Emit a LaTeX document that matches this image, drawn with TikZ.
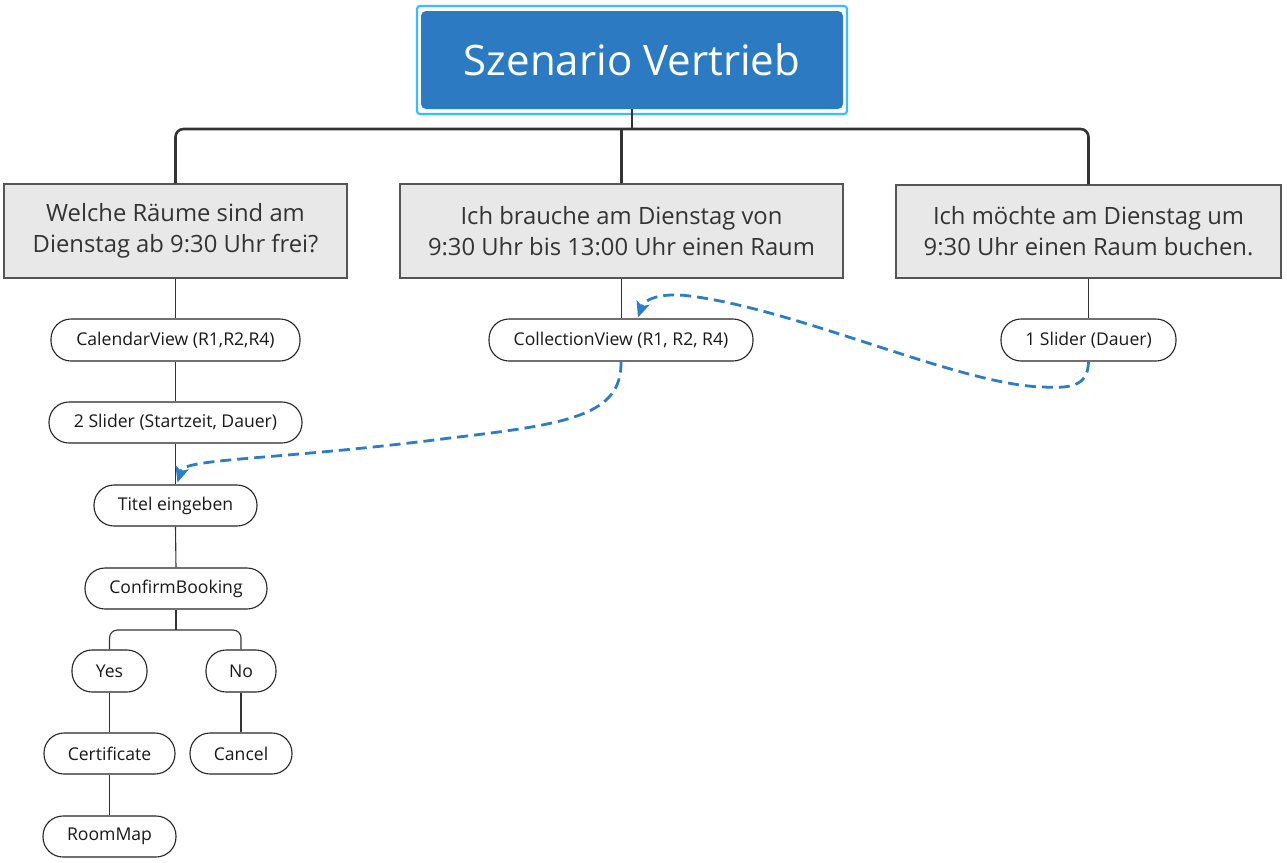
\documentclass[tikz,border=0pt]{standalone}
\usepackage{fontspec}
\setmainfont{Open Sans}
\usetikzlibrary{arrows.meta}
\definecolor{topblue}{RGB}{44,123,194}
\definecolor{hlblue}{RGB}{56,190,250}
\definecolor{boxgray}{RGB}{232,232,232}
\definecolor{boxline}{RGB}{85,85,85}
\definecolor{txt}{RGB}{51,51,51}
\definecolor{conn}{RGB}{51,51,51}
\definecolor{dashblue}{RGB}{46,124,196}
\tikzset{
  topbox/.style={fill=topblue, rounded corners=5pt, text=white, minimum width=422pt, minimum height=98pt, font=\fontsize{42}{48}\selectfont, inner sep=0pt},
  hlbox/.style={draw=hlblue, line width=2.2pt, rounded corners=3pt, minimum width=430pt, minimum height=108pt, inner sep=0pt},
  qbox/.style={draw=boxline, line width=1.3pt, fill=boxgray, text=txt, align=center, minimum height=94pt, inner sep=0pt, font=\fontsize{23.8}{31}\selectfont},
  pill/.style={draw=black!85, line width=1.1pt, fill=white, text=black!90, rounded corners=20pt, minimum height=41pt, inner sep=0pt, font=\fontsize{17.6}{20}\selectfont},
  mainline/.style={draw=conn, line width=2.6pt},
  thinline/.style={draw=conn, line width=1.1pt},
  dasharrow/.style={draw=dashblue, line width=2.8pt, dash pattern=on 11pt off 6pt, -{Stealth[length=16pt,width=14pt,inset=4pt,line width=0pt]}},
}
\begin{document}
\begin{tikzpicture}[x=1pt,y=-1pt]
\useasboundingbox (0,0) rectangle (1287,862);
\fill[white] (0,0) rectangle (1287,862);

% top
\node[hlbox] (topsel) at (632,60) {};
\node[topbox] (top) at (632,60) {Szenario Vertrieb};

% questions
\node[qbox, minimum width=343pt] (q1) at (175.5,231) {Welche Räume sind am\\Dienstag ab 9:30 Uhr frei?};
\node[qbox, minimum width=443pt] (q2) at (621.5,231) {Ich brauche am Dienstag von\\9:30 Uhr bis 13:00 Uhr einen Raum};
\node[qbox, minimum width=385pt, minimum height=93pt] (q3) at (1088.5,231.5) {Ich möchte am Dienstag um\\9:30 Uhr einen Raum buchen.};

\coordinate (bar) at (632,129);
\draw[mainline] (top.south) -- (bar);
\draw[mainline, rounded corners=8pt] (q1.north) -- (q1.north |- bar) -- (q3.north |- bar) -- (q3.north);
\draw[mainline] (q2.north) -- (q2.north |- bar);

% pills
\node[pill, minimum width=249pt, minimum height=42pt] (cal) at (175.5,340) {CalendarView (R1,R2,R4)};
\node[pill, minimum width=264pt, minimum height=42pt] (coll) at (621,340) {CollectionView (R1, R2, R4)};
\node[pill, minimum width=175pt, minimum height=42pt] (s1) at (1088.5,340) {1 Slider (Dauer)};
\node[pill, minimum width=253pt] (s2) at (175.5,422.5) {2 Slider (Startzeit, Dauer)};
\node[pill, minimum width=163pt] (titel) at (175.5,505.5) {Titel eingeben};
\node[pill, minimum width=182pt] (confirm) at (176,588.5) {ConfirmBooking};
\node[pill, minimum width=75pt, minimum height=42pt] (yes) at (109.5,671) {Yes};
\node[pill, minimum width=70pt, minimum height=42pt] (no) at (241,671) {No};
\node[pill, minimum width=131pt] (cert) at (109.5,753.5) {Certificate};
\node[pill, minimum width=102pt] (cancel) at (241,753.5) {Cancel};
\node[pill, minimum width=133pt] (room) at (109.5,836.5) {RoomMap};

% thin connectors
\draw[thinline] (q1.south) -- (cal.north);
\draw[thinline] (q2.south) -- (q2.south |- coll.north);
\draw[thinline] (q3.south) -- (q3.south |- s1.north);
\draw[thinline] (cal.south) -- (s2.north);
\draw[thinline] (s2.south) -- (titel.north);
\draw[thinline] (titel.south) -- (confirm.north);
\coordinate (split) at (176,630);
\draw[thinline] (confirm.south) -- (split);
\draw[thinline, rounded corners=8pt] (yes.north) |- (split) -| (no.north);
\draw[thinline] (yes.south) -- (cert.north);
\draw[thinline] (no.south) -- (cancel.north);
\draw[thinline] (cert.south) -- (room.north);

% dashed arrows
\draw[dasharrow] (coll.south) .. controls (622,415) and (570,424) .. (450,438) .. controls (280,460) and (185,458) .. ([xshift=2pt,yshift=2pt]titel.north);
\draw[dasharrow] (s1.south) .. controls (1088,388) and (1068,388) .. (1043,387) .. controls (960,385) and (800,310) .. (690,296) .. controls (660,292) and (644,300) .. ([xshift=17pt,yshift=1pt]coll.north);
\end{tikzpicture}
\end{document}
